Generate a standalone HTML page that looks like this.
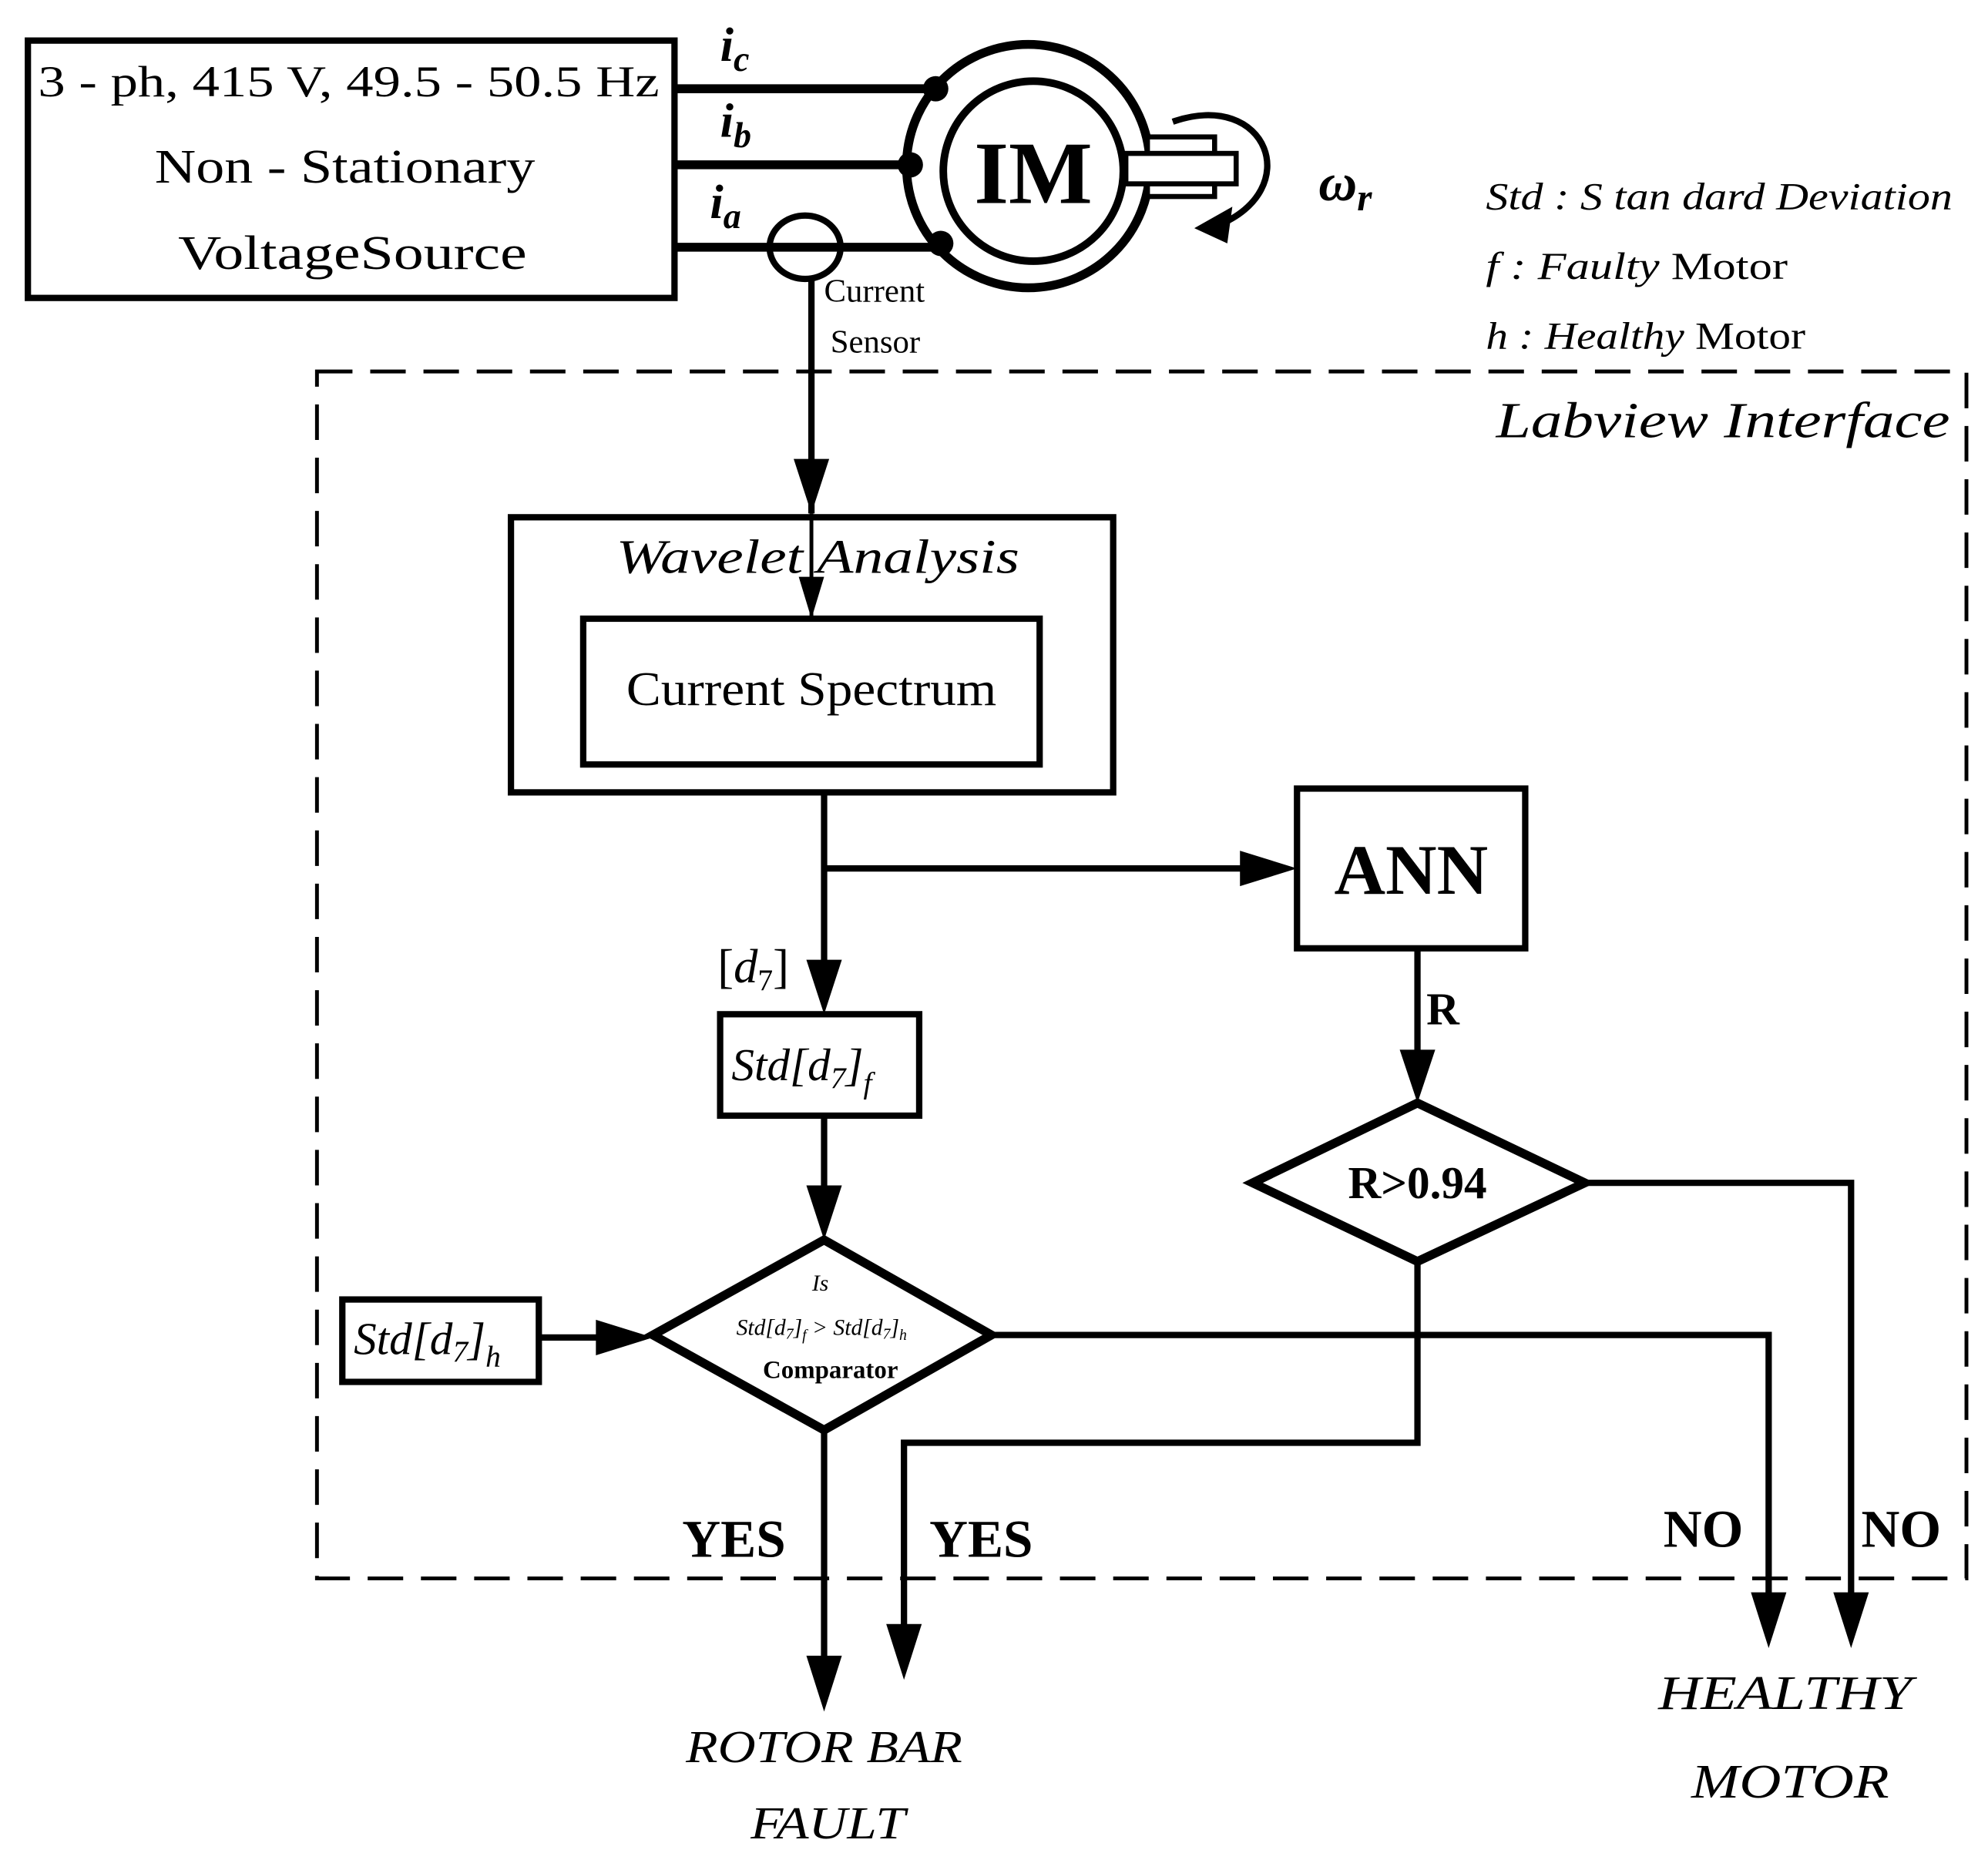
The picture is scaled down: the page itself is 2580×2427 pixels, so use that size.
<!DOCTYPE html>
<html><head><meta charset="utf-8"><style>html,body{margin:0;padding:0;background:#fff}svg{display:block}</style></head><body>
<svg width="2580" height="2427" viewBox="0 0 1568 1475" xmlns="http://www.w3.org/2000/svg" font-family="Liberation Serif, serif">
<g fill="none" stroke="#000">
<rect x="22" y="32" width="510" height="203" stroke-width="5"/>
<line x1="532" y1="70" x2="735" y2="70" stroke-width="7"/>
<line x1="532" y1="130" x2="715" y2="130" stroke-width="7"/>
<line x1="532" y1="195" x2="742" y2="195" stroke-width="7"/>
<circle cx="811" cy="131" r="96" stroke-width="7"/>
<circle cx="815" cy="135" r="71" stroke-width="6"/>
<rect x="905" y="108" width="53" height="47" stroke-width="4" fill="#fff"/>
<rect x="888" y="121" width="87" height="24" stroke-width="4" fill="#fff"/>
<path d="M925,96 C1000,70 1030,150 960,178" stroke-width="5"/>
<ellipse cx="635" cy="195" rx="28" ry="25" stroke-width="5"/>
<line x1="640" y1="220" x2="640" y2="405" stroke-width="5"/>
<line x1="640" y1="405" x2="640" y2="488" stroke-width="3"/>
<rect x="250" y="293" width="1301" height="952" stroke-width="3" stroke-dasharray="28 14"/>
<rect x="403" y="408" width="475" height="217" stroke-width="5"/>
<rect x="460" y="488" width="360" height="115" stroke-width="5"/>
<line x1="650" y1="625" x2="650" y2="760" stroke-width="5"/>
<line x1="650" y1="685" x2="985" y2="685" stroke-width="5"/>
<rect x="1023" y="622" width="180" height="126" stroke-width="5"/>
<rect x="568" y="800" width="157" height="80" stroke-width="5"/>
<line x1="650" y1="880" x2="650" y2="940" stroke-width="5"/>
<path d="M650,978 L782,1053 L650,1128 L515,1053 Z" stroke-width="7"/>
<rect x="270" y="1025" width="155" height="65" stroke-width="5"/>
<line x1="425" y1="1055" x2="475" y2="1055" stroke-width="5"/>
<line x1="1118" y1="748" x2="1118" y2="832" stroke-width="5"/>
<path d="M1118,870 L1250,933 L1118,995 L988,933 Z" stroke-width="7"/>
<polyline points="1250,933 1460,933 1460,1260" stroke-width="5"/>
<polyline points="782,1053 1395,1053 1395,1260" stroke-width="5"/>
<polyline points="1118,995 1118,1138 713,1138 713,1285" stroke-width="5"/>
<line x1="650" y1="1128" x2="650" y2="1310" stroke-width="5"/>
</g>
<g fill="#000">
<circle cx="738" cy="70" r="10"/><circle cx="718" cy="130" r="10"/><circle cx="742" cy="192" r="10"/>
<path d="M942,180 L972,163 L968,192 Z"/>
<path d="M626,362 L654,362 L640,405 Z"/>
<path d="M630,455 L650,455 L640,488 Z"/>
<path d="M636,757 L664,757 L650,800 Z"/>
<path d="M978,671 L978,699 L1023,685 Z"/>
<path d="M636,935 L664,935 L650,978 Z"/>
<path d="M470,1041 L470,1069 L515,1055 Z"/>
<path d="M1104,828 L1132,828 L1118,870 Z"/>
<path d="M1446,1256 L1474,1256 L1460,1300 Z"/>
<path d="M1381,1256 L1409,1256 L1395,1300 Z"/>
<path d="M699,1281 L727,1281 L713,1325 Z"/>
<path d="M636,1306 L664,1306 L650,1350 Z"/>
</g>
<g fill="#000">
<text x="275" y="76" font-size="35" text-anchor="middle" textLength="490" lengthAdjust="spacingAndGlyphs">3 - ph, 415 V, 49.5 - 50.5 Hz</text>
<text x="272" y="144" font-size="38" text-anchor="middle" textLength="300" lengthAdjust="spacingAndGlyphs">Non - Stationary</text>
<text x="278" y="212" font-size="38" text-anchor="middle" textLength="275" lengthAdjust="spacingAndGlyphs">VoltageSource</text>
<text x="568" y="48" font-size="38" font-weight="bold" font-style="italic">i<tspan font-size="28" dy="8">c</tspan></text>
<text x="568" y="108" font-size="38" font-weight="bold" font-style="italic">i<tspan font-size="28" dy="8">b</tspan></text>
<text x="560" y="172" font-size="38" font-weight="bold" font-style="italic">i<tspan font-size="28" dy="8">a</tspan></text>
<text x="815" y="160" font-size="70" font-weight="bold" text-anchor="middle">IM</text>
<text x="1040" y="158" font-size="42" font-weight="bold" font-style="italic">ω<tspan font-size="30" dy="8">r</tspan></text>
<text x="650" y="238" font-size="26">Current</text>
<text x="655" y="278" font-size="26">Sensor</text>
<text x="1172" y="165" font-size="30" font-style="italic" textLength="368" lengthAdjust="spacingAndGlyphs">Std : S tan dard Deviation</text>
<text x="1172" y="220" font-size="30" textLength="238" lengthAdjust="spacingAndGlyphs"><tspan font-style="italic">f : Faulty</tspan> Motor</text>
<text x="1172" y="275" font-size="30" textLength="252" lengthAdjust="spacingAndGlyphs"><tspan font-style="italic">h : Healthy</tspan> Motor</text>
<text x="1180" y="345" font-size="40" font-style="italic" textLength="358" lengthAdjust="spacingAndGlyphs">Labview Interface</text>
<text x="645" y="452" font-size="38" font-style="italic" text-anchor="middle" textLength="318" lengthAdjust="spacingAndGlyphs">Wavelet Analysis</text>
<text x="640" y="556" font-size="38" text-anchor="middle" textLength="292" lengthAdjust="spacingAndGlyphs">Current Spectrum</text>
<text x="1113" y="705" font-size="56" font-weight="bold" text-anchor="middle">ANN</text>
<text x="566" y="775" font-size="38">[<tspan font-style="italic">d</tspan><tspan font-size="24" dy="6">7</tspan><tspan dy="-6">]</tspan></text>
<text x="577" y="852" font-size="36" font-style="italic">Std[d<tspan font-size="24" dy="6">7</tspan><tspan dy="-6">]</tspan><tspan font-size="24" dy="10">f</tspan></text>
<text x="279" y="1068" font-size="36" font-style="italic">Std[d<tspan font-size="24" dy="6">7</tspan><tspan dy="-6">]</tspan><tspan font-size="24" dy="10">h</tspan></text>
<text x="647" y="1018" font-size="18" font-style="italic" text-anchor="middle">Is</text>
<text x="648" y="1053" font-size="18" font-style="italic" text-anchor="middle">Std[d<tspan font-size="12" dy="3">7</tspan><tspan dy="-3">]</tspan><tspan font-size="12" dy="4">f</tspan><tspan dy="-4"> &gt; Std[d</tspan><tspan font-size="12" dy="3">7</tspan><tspan dy="-3">]</tspan><tspan font-size="12" dy="4">h</tspan></text>
<text x="655" y="1087" font-size="20" font-weight="bold" text-anchor="middle">Comparator</text>
<text x="1125" y="808" font-size="36" font-weight="bold">R</text>
<text x="1118" y="945" font-size="36" font-weight="bold" text-anchor="middle">R&gt;0.94</text>
<text x="538" y="1228" font-size="42" font-weight="bold">YES</text>
<text x="733" y="1228" font-size="42" font-weight="bold">YES</text>
<text x="1312" y="1220" font-size="42" font-weight="bold">NO</text>
<text x="1468" y="1220" font-size="42" font-weight="bold">NO</text>
<text x="650" y="1390" font-size="36" font-style="italic" text-anchor="middle" textLength="218" lengthAdjust="spacingAndGlyphs">ROTOR  BAR</text>
<text x="653" y="1450" font-size="36" font-style="italic" text-anchor="middle" textLength="122" lengthAdjust="spacingAndGlyphs">FAULT</text>
<text x="1408" y="1348" font-size="38" font-style="italic" text-anchor="middle" textLength="200" lengthAdjust="spacingAndGlyphs">HEALTHY</text>
<text x="1412" y="1418" font-size="38" font-style="italic" text-anchor="middle" textLength="156" lengthAdjust="spacingAndGlyphs">MOTOR</text>
</g>
</svg>
</body></html>
